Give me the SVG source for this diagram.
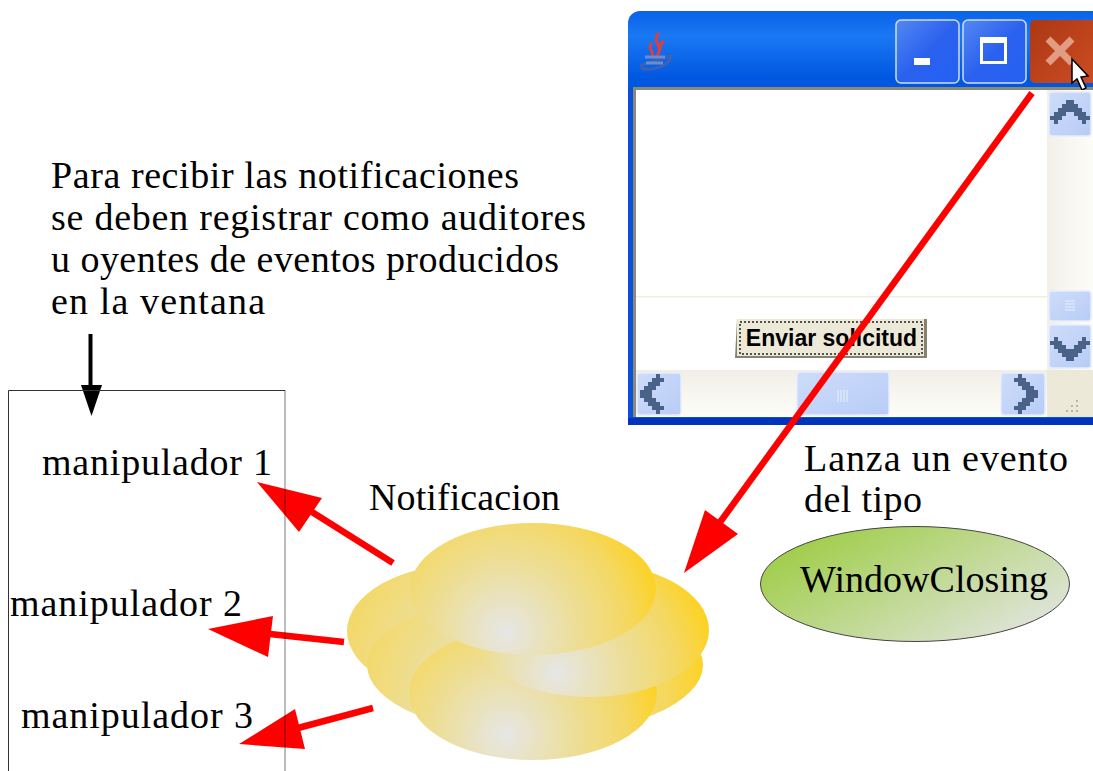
<svg xmlns="http://www.w3.org/2000/svg" width="1093" height="771" viewBox="0 0 1093 771">
<defs>
<linearGradient id="title" x1="0" y1="0" x2="0" y2="1"><stop offset="0" stop-color="#0a62e8"/><stop offset="0.06" stop-color="#1a78f4"/><stop offset="0.16" stop-color="#0058e0"/><stop offset="0.72" stop-color="#0056de"/><stop offset="0.92" stop-color="#1272f4"/><stop offset="1" stop-color="#0e64e8"/></linearGradient>
<linearGradient id="winBtn" x1="0" y1="0" x2="1" y2="1"><stop offset="0" stop-color="#5488f2"/><stop offset="0.5" stop-color="#2a62ee"/><stop offset="1" stop-color="#2460f4"/></linearGradient>
<linearGradient id="closeBtn" x1="0" y1="0" x2="1" y2="1"><stop offset="0" stop-color="#ab3814"/><stop offset="1" stop-color="#cc4c22"/></linearGradient>
<linearGradient id="scrollBtn" x1="0" y1="0" x2="1" y2="1"><stop offset="0" stop-color="#cddcfa"/><stop offset="1" stop-color="#b8ccf6"/></linearGradient>
<linearGradient id="trackV" x1="0" y1="0" x2="1" y2="0"><stop offset="0" stop-color="#f2f0e8"/><stop offset="1" stop-color="#fdfdf8"/></linearGradient>
<linearGradient id="trackH" x1="0" y1="0" x2="0" y2="1"><stop offset="0" stop-color="#f0eee6"/><stop offset="1" stop-color="#fdfdf8"/></linearGradient>
<linearGradient id="green" x1="0" y1="0.1" x2="1" y2="0.75"><stop offset="0" stop-color="#99cb3a"/><stop offset="1" stop-color="#e0e4dc"/></linearGradient>
<radialGradient id="puffTop" gradientUnits="userSpaceOnUse" cx="506" cy="632" r="160"><stop offset="0" stop-color="#e6e6e6"/><stop offset="0.4" stop-color="#ecdf9e"/><stop offset="0.75" stop-color="#f4d864"/><stop offset="1" stop-color="#fdd220"/></radialGradient>
<radialGradient id="puffRight" gradientUnits="userSpaceOnUse" cx="557" cy="673" r="160"><stop offset="0" stop-color="#e6e6e6"/><stop offset="0.4" stop-color="#ecdf9e"/><stop offset="0.75" stop-color="#f4d864"/><stop offset="1" stop-color="#fdd220"/></radialGradient>
<radialGradient id="puffLow" gradientUnits="userSpaceOnUse" cx="506" cy="735" r="160"><stop offset="0" stop-color="#e6e6e6"/><stop offset="0.4" stop-color="#ecdf9e"/><stop offset="0.75" stop-color="#f4d864"/><stop offset="1" stop-color="#fdd220"/></radialGradient>
<radialGradient id="puffWide" gradientUnits="userSpaceOnUse" cx="506" cy="700" r="205"><stop offset="0" stop-color="#e6e6e6"/><stop offset="0.4" stop-color="#ecdf9e"/><stop offset="0.75" stop-color="#f4d864"/><stop offset="1" stop-color="#fdd220"/></radialGradient>
<radialGradient id="puffLeft" gradientUnits="userSpaceOnUse" cx="506" cy="680" r="230"><stop offset="0" stop-color="#e6e6e6"/><stop offset="0.4" stop-color="#ecdf9e"/><stop offset="0.75" stop-color="#f4d864"/><stop offset="1" stop-color="#fdd220"/></radialGradient>
<path id="chevron" d="M16 0h8v4h4v4h4v4h4v4h4v4h-4v4h-4v-4h-4v-4h-4v-4h-8v4h-4v4h-4v4h-4v-4h-4v-4h4v-4h4v-4h4v-4h4Z" fill="#4a6288"/>
<filter id="soft" x="-10%" y="-10%" width="120%" height="120%"><feGaussianBlur stdDeviation="0.7"/></filter>
</defs>
<style>
.t{font-family:"Liberation Serif","DejaVu Serif",serif;font-size:38px;fill:#000}
.sb{fill:url(#scrollBtn);stroke:#e6edfc;stroke-width:1.5}
.red{stroke:#ff0000;stroke-width:6.500;fill:none}
.head{fill:#ff0000}
</style>
<rect width="1093" height="771" fill="#fff"/>

<g id="ventana">
<path d="M628 425V23a12 12 0 0 1 12-12H1093V425Z" fill="url(#title)"/>
<rect x="628" y="88" width="465" height="337" fill="#0a50dc"/>
<rect x="628" y="418" width="465" height="7" fill="#0034bc"/>
<rect x="633" y="87" width="460" height="4" fill="#8a8a78"/>
<rect x="633" y="87" width="3" height="330" fill="#8a8a78"/>
<rect x="636" y="90" width="457" height="327" fill="#fff"/>
<rect x="636" y="296" width="411" height="1.5" fill="#f0eee0"/>
<g id="icono-java" fill="none" filter="url(#soft)">
<path d="M659 33c-9 9 6 12-2 23M652 43c-6 6 3 8 0 13M664 41c-4 3-5 6-4 10" stroke="#e03c3c" stroke-width="3"/>
<path d="M640 66c8-4 24-8 31-10-1 9-18 16-30 12" stroke="#3e62b4" stroke-width="3"/>
<path d="M645 57h20M646 63h17" stroke="#6c8cd0" stroke-width="3"/>
</g>
<g id="minimizar"><rect x="896" y="20" width="63" height="63" rx="5" fill="url(#winBtn)" stroke="#cfdcf8" stroke-width="1.5"/><rect x="914" y="58" width="16" height="7" fill="#fff"/></g>
<g id="maximizar"><rect x="963" y="20" width="63" height="63" rx="5" fill="url(#winBtn)" stroke="#cfdcf8" stroke-width="1.5"/><path d="M980 37h27v27h-27ZM983 43v18h21v-18Z" fill="#fff" fill-rule="evenodd"/></g>
<g id="cerrar"><path d="M1093 20H1035a5 5 0 0 0-5 5V78a5 5 0 0 0 5 5H1093Z" fill="url(#closeBtn)"/><path d="M1048 39L1072 63M1072 39L1048 63" stroke="#e39c84" stroke-width="7"/></g>
<path id="cursor" d="M1072 59V83L1077 79L1082 90L1086 88L1081 77L1088 76Z" fill="#fff" stroke="#000" stroke-width="1.5"/>
<g id="barra-vertical">
<rect x="1047" y="90" width="46" height="280" fill="url(#trackV)"/>
<rect class="sb" x="1049" y="92" width="42" height="44" rx="3"/>
<use href="#chevron" transform="translate(1050 100)"/>
<rect class="sb" x="1049" y="291" width="42" height="30" rx="3"/>
<path d="M1065 301h10M1065 304h10M1065 307h10M1065 310h10" stroke="#e8f0ff" stroke-width="1"/>
<rect class="sb" x="1049" y="325" width="42" height="43" rx="3"/>
<use href="#chevron" transform="translate(1050 361) scale(1 -1)"/>
</g>
<g id="barra-horizontal">
<rect x="636" y="370" width="411" height="46" fill="url(#trackH)"/>
<rect class="sb" x="637" y="373" width="44" height="42" rx="3"/>
<use href="#chevron" transform="matrix(0 1 1 0 640 374)"/>
<rect class="sb" x="797" y="372" width="92" height="43" rx="3"/>
<path d="M838 390v12M841 390v12M844 390v12M847 390v12" stroke="#e8f0ff" stroke-width="1"/>
<rect class="sb" x="1001" y="373" width="44" height="42" rx="3"/>
<use href="#chevron" transform="matrix(0 1 -1 0 1038 374)"/>
<rect x="1047" y="370" width="46" height="47" fill="#ece9d8"/>
<path d="M1066 411h2M1071 411h2M1076 411h2M1071 406h2M1076 406h2M1076 401h2" stroke="#b8b6a6" stroke-width="2"/>
</g>
<g id="boton-enviar">
<path d="M735 358L737 319H927V358Z" fill="#85826f"/>
<rect x="737" y="319" width="187" height="37" fill="#ece9d8"/>
<rect x="740" y="322" width="182" height="32" fill="none" stroke="#222" stroke-width="1.500" stroke-dasharray="2 2"/>
<text x="831.500" y="346" text-anchor="middle" font-family="'Liberation Sans',Arial,sans-serif" font-size="23" font-weight="700" fill="#000">Enviar solicitud</text>
</g>
</g>

<g id="texto-registro">
<text class="t" x="51" y="188" textLength="468">Para recibir las notificaciones</text>
<text class="t" x="51" y="230" textLength="535">se deben registrar como auditores</text>
<text class="t" x="51" y="272" textLength="508">u oyentes de eventos producidos</text>
<text class="t" x="51" y="314" textLength="214">en la ventana</text>
</g>

<g id="manipulador-1"><text class="t" x="42" y="475" textLength="230">manipulador 1</text></g>
<g id="manipulador-2"><text class="t" x="10" y="616" textLength="232">manipulador 2</text></g>
<g id="manipulador-3"><text class="t" x="21" y="728" textLength="232">manipulador 3</text></g>
<g id="rotulo-notificacion"><text class="t" x="369" y="510" textLength="191">Notificacion</text></g>
<g id="rotulo-evento"><text class="t" x="804" y="471" textLength="264">Lanza un evento</text><text class="t" x="804" y="512" textLength="118">del tipo</text></g>

<g id="nube">
<ellipse cx="467" cy="631" rx="120" ry="67" fill="url(#puffLeft)"/>
<ellipse cx="535" cy="665" rx="168" ry="70" fill="url(#puffWide)"/>
<ellipse cx="533" cy="693" rx="124" ry="67" fill="url(#puffLow)"/>
<ellipse cx="590" cy="630" rx="119" ry="67" fill="url(#puffRight)"/>
<ellipse cx="533" cy="589" rx="123" ry="66" fill="url(#puffTop)"/>
</g>

<g id="evento"><ellipse cx="915" cy="584" rx="154.500" ry="57.500" fill="url(#green)" stroke="#444" stroke-width="1"/><text class="t" x="800" y="592" textLength="248">WindowClosing</text></g>

<g id="flecha-registro"><path d="M90.500 334V386" stroke="#000" stroke-width="4" fill="none"/><path d="M81 385H102L91.500 416Z" fill="#000"/></g>

<g id="conectores">
<path class="red" d="M1032 93L718 525"/><path class="head" d="M684 573L705 510L738 534Z"/>
<path class="red" d="M393 563L312 512"/><path class="head" d="M257 482L322 498L299 532Z"/>
<path class="red" d="M344 642L270 634"/><path class="head" d="M208 629L273 616L268 657Z"/>
<path class="red" d="M373 708L298 728"/><path class="head" d="M239 744L295 709L305 749Z"/>
</g>

<g id="panel" fill="none">
<path d="M8.500 771V390.500H285" stroke="#333" stroke-width="1"/>
<path d="M285 390V771" stroke="#000" stroke-opacity="0.35" stroke-width="1.500"/>
</g>
</svg>
